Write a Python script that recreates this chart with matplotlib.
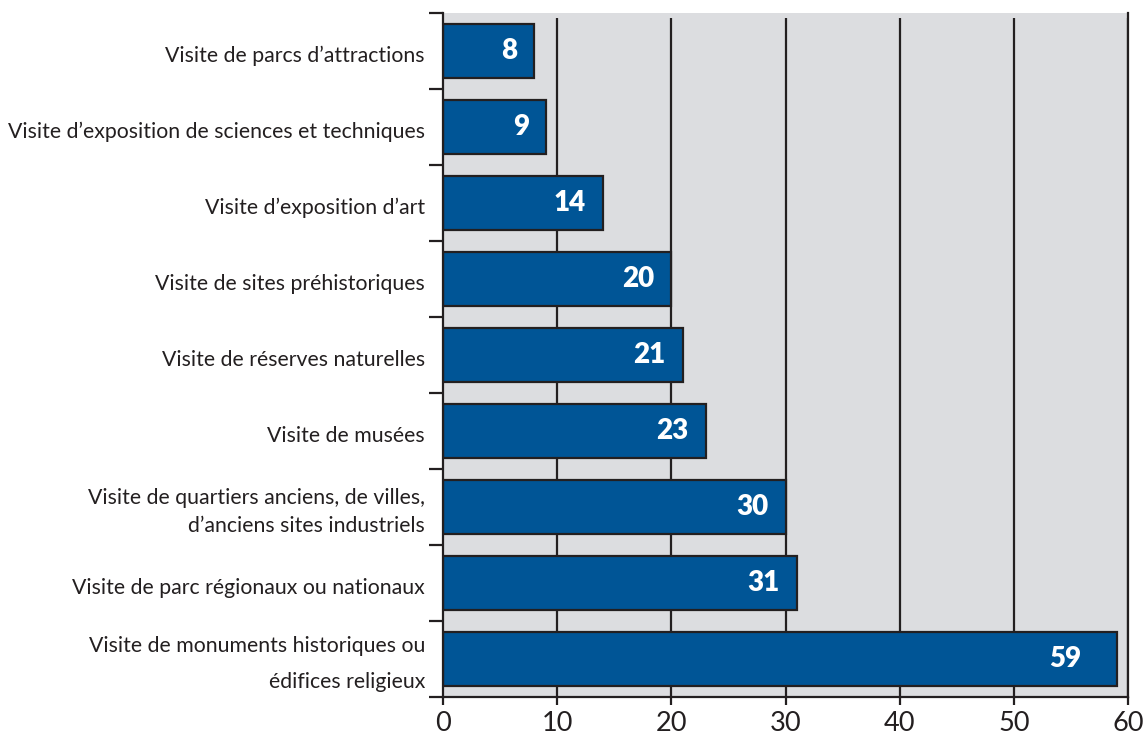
import matplotlib
matplotlib.use("Agg")
import matplotlib.pyplot as plt
from matplotlib.ticker import FixedLocator

categories = [
    "Visite de parcs d\u2019attractions",
    "Visite d\u2019exposition de sciences et techniques",
    "Visite d\u2019exposition d\u2019art",
    "Visite de sites pr\u00e9historiques",
    "Visite de r\u00e9serves naturelles",
    "Visite de mus\u00e9es",
    "Visite de quartiers anciens, de villes,\nd\u2019anciens sites industriels",
    "Visite de parc r\u00e9gionaux ou nationaux",
    "Visite de monuments historiques ou\n\u00e9difices religieux",
]
values = [8, 9, 14, 20, 21, 23, 30, 31, 59]
xticks = [0, 10, 20, 30, 40, 50, 60]

plt.rcParams['font.family'] = ['Lato', 'DejaVu Sans']
TEXT = '#231f20'
BAR = '#005596'
BG = '#dcdde0'

fig = plt.figure(figsize=(11.46, 7.37), dpi=100)
ax = fig.add_axes([443/1146, 1-697/737, (1128-443)/1146, (697-13)/737])
ax.set_facecolor(BG)

n = len(categories)
ypos = [n - 1 - i for i in range(n)]
ax.set_ylim(-0.5, n - 0.5)
ax.set_xlim(0, 60)

# gridlines
ax.vlines(xticks[1:], -0.5, n - 0.5 - 0.07, colors='#231f20', linewidth=1.6, zorder=1)

ax.barh(ypos, values, height=0.72, color=BAR, edgecolor='#231f20', linewidth=1.6, zorder=2)

for y, v in zip(ypos, values):
    off = -35 if v > 50 else -17
    ax.annotate(str(v), (v, y), xytext=(off, 0), textcoords='offset pixels',
                ha='right', va='center', color='white', fontsize=20, fontweight='heavy', zorder=3)

# y labels
ax.set_yticks([])
ax.yaxis.set_minor_locator(FixedLocator([i - 0.5 for i in range(n + 1)]))
ax.tick_params(axis='y', which='minor', length=10, width=1.6, color='#231f20', direction='out')
for y, lab in zip(ypos, categories):
    ls = 1.45
    if lab.startswith("Visite de monuments"):
        ls = 2.05
    ax.annotate(lab, (0, y), xytext=(-18, -5), textcoords='offset pixels',
                ha='right', va='center', fontsize=15.3, color=TEXT,
                linespacing=ls, annotation_clip=False)

ax.set_xticks(xticks)
ax.set_xticklabels([str(t) for t in xticks], fontsize=19.5, color=TEXT)
ax.tick_params(axis='x', length=6, width=1.6, color='#231f20', pad=4)

ax.spines['top'].set_visible(False)
for s in ['left', 'bottom', 'right']:
    ax.spines[s].set_color('#231f20')
    ax.spines[s].set_linewidth(1.6)

fig.savefig('out.png', dpi=100)
